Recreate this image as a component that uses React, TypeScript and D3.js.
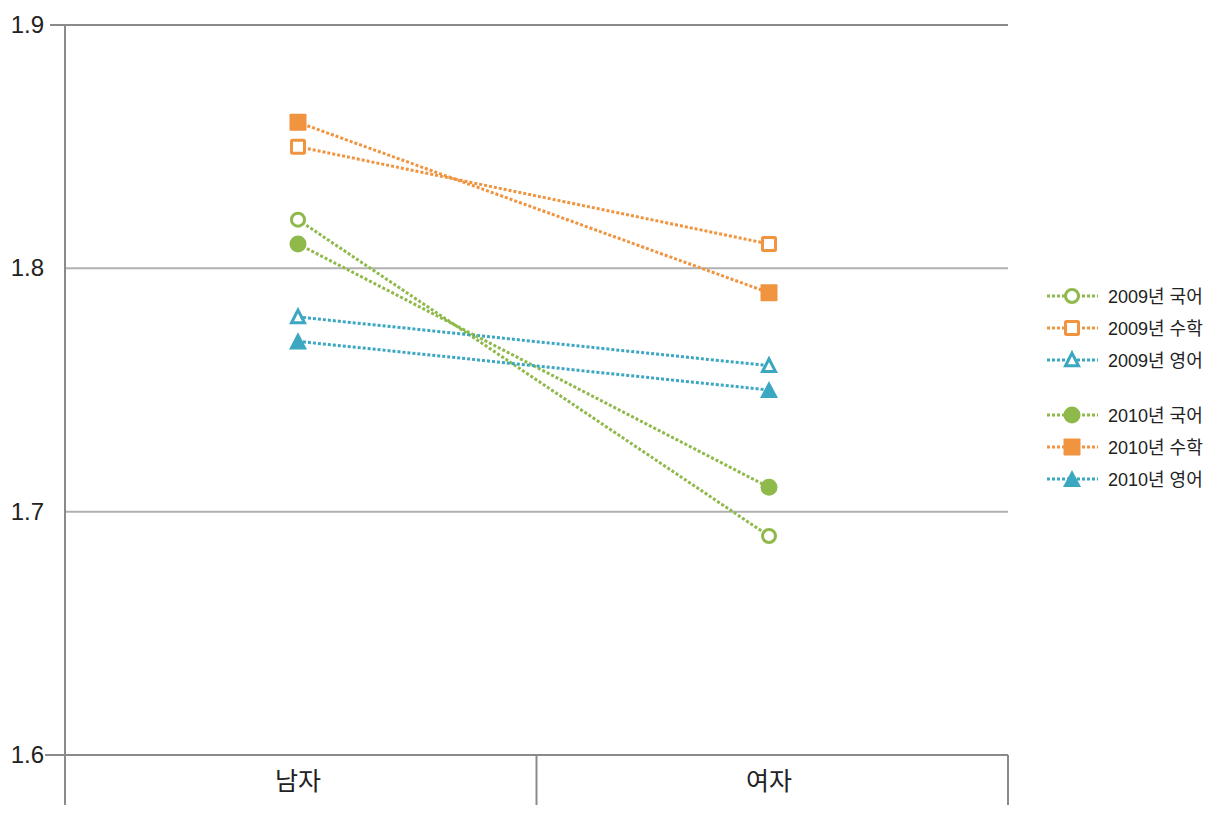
import React from "react";
import * as d3 from "d3";

const categories = ["남자", "여자"];
const yTicks = [1.6, 1.7, 1.8, 1.9];
const seriesNames = ["2009년 국어", "2009년 수학", "2009년 영어", "2010년 국어", "2010년 수학", "2010년 영어"];
const seriesValues = [
  [1.82, 1.69],
  [1.85, 1.81],
  [1.78, 1.76],
  [1.81, 1.71],
  [1.86, 1.79],
  [1.77, 1.75],
];
const seriesColors = ["#8fb94b", "#f0943f", "#3ba7c1", "#8fb94b", "#f0943f", "#3ba7c1"];
const seriesShapes = ["circle", "square", "triangle", "circle", "square", "triangle"];
const seriesFilled = [false, false, false, true, true, true];

const W = 1219, H = 817;
const left = 65, right = 1008, top = 25, bottom = 755;

function Marker({ x, y, shape, color, filled }: any) {
  const fill = filled ? color : "#fff";
  const sw = filled ? 0 : 3;
  if (shape === "circle") {
    const r = filled ? 8.5 : 6.5;
    return <circle cx={x} cy={y} r={r} fill={fill} stroke={color} strokeWidth={sw} />;
  }
  if (shape === "square") {
    const s = filled ? 17 : 13;
    return <rect x={x - s / 2} y={y - s / 2} width={s} height={s} rx={1} fill={fill} stroke={color} strokeWidth={sw} />;
  }
  const s = filled ? 18 : 13;
  const h = s * 0.9;
  const p = `M${x},${y - h / 2 - 1} L${x + s / 2},${y + h / 2} L${x - s / 2},${y + h / 2} Z`;
  return <path d={p} fill={fill} stroke={color} strokeWidth={sw} strokeLinejoin="miter" />;
}

export default function App() {
  const x = d3.scaleBand().domain(categories).range([left, right]);
  const y = d3.scaleLinear().domain([1.6, 1.9]).range([bottom, top]);
  const cx = (c: string) => Math.round((x(c) as number) + x.bandwidth() / 2 - 3);
  const font = "'Liberation Sans', 'Noto Sans CJK KR', sans-serif";
  const legendY = [296, 328, 360, 415, 447, 479];

  return (
    <svg width={W} height={H} style={{ position: "absolute", left: 0, top: 0, background: "#fff" }}>
      {yTicks.map((t) => (
        <g key={t}>
          {t > 1.6 && (
            <line x1={t === 1.9 ? 50 : left} x2={right} y1={y(t)} y2={y(t)} stroke={t === 1.9 ? "#8a8a8a" : "#b0b0b0"} strokeWidth={2} />
          )}
          <text x={44} y={y(t) + 8} textAnchor="end" fontSize={24} fill="#222" fontFamily={font}>
            {t.toFixed(1)}
          </text>
        </g>
      ))}
      <line x1={left} x2={left} y1={top} y2={805} stroke="#8a8a8a" strokeWidth={2} />
      <line x1={45} x2={right} y1={bottom} y2={bottom} stroke="#8a8a8a" strokeWidth={2} />
      {[left, (left + right) / 2, right].map((v, i) => (
        <line key={i} x1={v} x2={v} y1={bottom} y2={805} stroke="#8a8a8a" strokeWidth={2} />
      ))}
      {categories.map((c) => (
        <text key={c} x={cx(c)} y={790} textAnchor="middle" fontSize={25} fill="#222" fontFamily={font}>
          {c}
        </text>
      ))}
      {seriesValues.map((vals, i) => (
        <line
          key={"l" + i}
          x1={cx(categories[0])}
          y1={y(vals[0])}
          x2={cx(categories[1])}
          y2={y(vals[1])}
          stroke={seriesColors[i]}
          strokeWidth={3}
          strokeDasharray="3,2"
        />
      ))}
      {seriesValues.map((vals, i) =>
        vals.map((v, j) => (
          <Marker key={"m" + i + j} x={cx(categories[j])} y={y(v)} shape={seriesShapes[i]} color={seriesColors[i]} filled={seriesFilled[i]} />
        ))
      )}
      {seriesNames.map((n, i) => (
        <g key={"lg" + i}>
          <line x1={1047} x2={1098} y1={legendY[i]} y2={legendY[i]} stroke={seriesColors[i]} strokeWidth={3} strokeDasharray="3,2" />
          <Marker x={1072} y={legendY[i]} shape={seriesShapes[i]} color={seriesColors[i]} filled={seriesFilled[i]} />
          <text x={1108} y={legendY[i] + 7} fontSize={18} fill="#222" fontFamily={font}>
            {n}
          </text>
        </g>
      ))}
    </svg>
  );
}
